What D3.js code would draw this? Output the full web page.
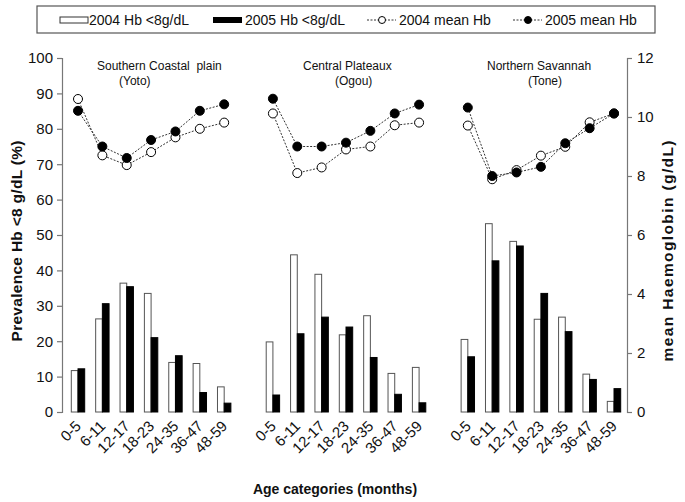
<!DOCTYPE html>
<html><head><meta charset="utf-8">
<script src="https://cdn.jsdelivr.net/npm/d3@7"></script>
<style>body{margin:0;background:#fff}svg{display:block;font-family:Arial,"Liberation Sans",sans-serif}</style>
</head><body><svg id="c" width="685" height="502"></svg>
<script>
const ageCats = ["0-5","6-11","12-17","18-23","24-35","36-47","48-59"];
const regions = ["Southern Coastal  plain","Central Plateaux","Northern Savannah"];
const regionSub = ["(Yoto)","(Ogou)","(Tone)"];
const prev2004 = [
  [11.7, 26.3, 36.4, 33.5, 14.0, 13.7, 7.1],
  [19.8, 44.4, 38.9, 21.8, 27.2, 10.9, 12.6],
  [20.5, 53.2, 48.2, 26.2, 26.8, 10.7, 3.0]
];
const prev2005 = [
  [12.2, 30.6, 35.4, 21.0, 15.9, 5.5, 2.5],
  [4.8, 22.1, 26.8, 24.0, 15.4, 5.0, 2.6],
  [15.6, 42.7, 46.9, 33.5, 22.7, 9.2, 6.6]
];
const hb2004 = [
  [10.61, 8.70, 8.37, 8.81, 9.31, 9.60, 9.81],
  [10.12, 8.10, 8.29, 8.90, 9.00, 9.72, 9.81],
  [9.71, 7.89, 8.20, 8.69, 8.99, 9.82, 10.12]
];
const hb2005 = [
  [10.21, 9.00, 8.61, 9.22, 9.51, 10.21, 10.43],
  [10.62, 9.00, 9.00, 9.13, 9.53, 10.12, 10.42],
  [10.32, 8.00, 8.12, 8.31, 9.11, 9.62, 10.12]
];
const leftTicks = [0,10,20,30,40,50,60,70,80,90,100];
const rightTicks = [0,2,4,6,8,10,12];
const legendLabels = ["2004 Hb <8g/dL","2005 Hb <8g/dL","2004 mean Hb","2005 mean Hb"];

const svg = d3.select("#c");
const x = d3.scaleLinear().domain([0,22]).range([78,614]);
const yL = d3.scaleLinear().domain([0,100]).range([412,58]);
const yR = d3.scaleLinear().domain([0,12]).range([412,58]);
const bw = 6.7;
// one empty slot between panels: panel p starts at slot p*8
const xi = (p,c) => x(p*8 + c);

// axes
const axL = svg.append("g").attr("transform","translate(62,0)")
  .call(d3.axisLeft(yL).tickValues(leftTicks).tickSize(5).tickPadding(4));
const axR = svg.append("g").attr("transform","translate(627,0)")
  .call(d3.axisRight(yR).tickValues(rightTicks).tickSize(5).tickPadding(5));
[axL,axR].forEach(a=>{
  a.selectAll("path,line").attr("stroke","#777").attr("stroke-width",1.2);
  a.selectAll("text").attr("font-size","15px").attr("fill","#111").attr("font-family","Arial,'Liberation Sans',sans-serif");
});

// bars
const bars = [];
prev2004.forEach((arr,p)=>arr.forEach((v,c)=>bars.push({p,c,v,yr:2004})));
prev2005.forEach((arr,p)=>arr.forEach((v,c)=>bars.push({p,c,v,yr:2005})));
svg.append("g").selectAll("rect").data(bars).join("rect")
  .attr("x",d=> d.yr===2004 ? xi(d.p,d.c)-bw : xi(d.p,d.c))
  .attr("y",d=>yL(d.v))
  .attr("width",bw)
  .attr("height",d=>yL(0)-yL(d.v))
  .attr("fill",d=>d.yr===2004?"#fff":"#000")
  .attr("stroke",d=>d.yr===2004?"#555":"#000")
  .attr("stroke-width",1);

// lines
const line = d3.line().x(d=>xi(d.p,d.c)).y(d=>yR(d.v));
[hb2004,hb2005].forEach(ser=>{
  ser.forEach((arr,p)=>{
    const pts = arr.map((v,c)=>({p,c,v}));
    svg.append("path").datum(pts).attr("d",line).attr("fill","none")
      .attr("stroke","#333").attr("stroke-width",1).attr("stroke-dasharray","2,1.5");
  });
});
[[hb2004,"#fff"],[hb2005,"#000"]].forEach(([ser,fill])=>{
  ser.forEach((arr,p)=>{
    const pts = arr.map((v,c)=>({p,c,v}));
    svg.append("g").selectAll("circle").data(pts).join("circle")
      .attr("cx",d=>xi(d.p,d.c)).attr("cy",d=>yR(d.v)).attr("r",4.5)
      .attr("fill",fill).attr("stroke","#000").attr("stroke-width",1);
  });
});

// region titles
const titleX = [97,303,487];
const subX = [119,335,528];
regions.forEach((r,p)=>{
  svg.append("text").attr("x",titleX[p]).attr("y",70).attr("font-size","12px").attr("fill","#111")
    .attr("xml:space","preserve").style("white-space","pre").text(r);
  svg.append("text").attr("x",subX[p]).attr("y",85).attr("font-size","12px").attr("fill","#111").text(regionSub[p]);
});

// x tick labels
const xl = svg.append("g");
for(let p=0;p<3;p++){
  ageCats.forEach((a,c)=>{
    const cx = xi(p,c)+4, cy = 427;
    xl.append("text").attr("transform",`translate(${cx},${cy}) rotate(-45)`)
      .attr("text-anchor","end").attr("font-size","15px").attr("fill","#111").text(a);
  });
}

// axis titles
svg.append("text").attr("transform","translate(22,241) rotate(-90)").attr("text-anchor","middle")
  .attr("font-size","15.5px").attr("font-weight","bold").attr("fill","#111")
  .attr("textLength",201).attr("lengthAdjust","spacing").text("Prevalence Hb <8 g/dL (%)");
svg.append("text").attr("transform","translate(673,251) rotate(-90)").attr("text-anchor","middle")
  .attr("font-size","15.5px").attr("font-weight","bold").attr("fill","#111")
  .attr("textLength",221).attr("lengthAdjust","spacing").text("mean Haemoglobin (g/dL)");
svg.append("text").attr("x",335).attr("y",494).attr("text-anchor","middle")
  .attr("font-size","14px").attr("font-weight","bold").attr("fill","#111").text("Age categories (months)");

// legend
const lg = svg.append("g");
lg.append("rect").attr("x",37).attr("y",6).attr("width",618).attr("height",27)
  .attr("fill","#fff").attr("stroke","#555").attr("stroke-width",1.2);
const ly = 20;
lg.append("rect").attr("x",60).attr("y",ly-3).attr("width",28).attr("height",6).attr("fill","#fff").attr("stroke","#333");
lg.append("text").attr("x",89).attr("y",ly+5).attr("font-size","14px").attr("fill","#111").text(legendLabels[0]);
lg.append("rect").attr("x",213).attr("y",ly-3).attr("width",29).attr("height",6).attr("fill","#000");
lg.append("text").attr("x",245).attr("y",ly+5).attr("font-size","14px").attr("fill","#111").text(legendLabels[1]);
[[367,"#fff",399,legendLabels[2]],[513,"#000",545,legendLabels[3]]].forEach(([lx,f,tx,t])=>{
  lg.append("line").attr("x1",lx).attr("x2",lx+29).attr("y1",ly).attr("y2",ly)
    .attr("stroke","#333").attr("stroke-dasharray","2,1.5");
  lg.append("circle").attr("cx",lx+15).attr("cy",ly).attr("r",3.5).attr("fill",f).attr("stroke","#000");
  lg.append("text").attr("x",tx).attr("y",ly+5).attr("font-size","14px").attr("fill","#111").text(t);
});
</script></body></html>
